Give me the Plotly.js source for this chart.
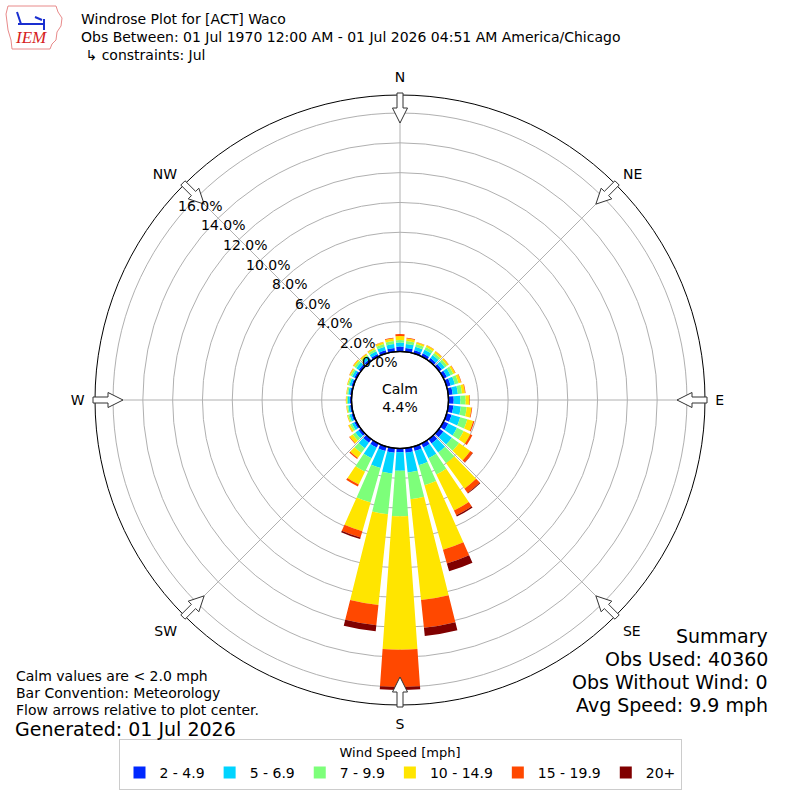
<!DOCTYPE html>
<html>
<head>
<meta charset="utf-8">
<script src="https://cdn.plot.ly/plotly-3.0.1.min.js"></script>
<style>
  html, body { margin: 0; padding: 0; background: #ffffff; }
  #chart { width: 800px; height: 800px; }
</style>
</head>
<body>
<div id="chart"></div>
<script>
// ---- data (percent of observations), direction in compass degrees ----
const directions = [0,10,20,30,40,50,60,70,80,90,100,110,120,130,140,150,160,170,
                    180,190,200,210,220,230,240,250,260,270,280,290,300,310,320,330,340,350];
const speedBins = ["2 - 4.9", "5 - 6.9", "7 - 9.9", "10 - 14.9", "15 - 19.9", "20+"];
const binColors = ["#0028ff", "#00d4ff", "#7dff7a", "#ffe500", "#ff4800", "#800000"];

const bin2to5 = [0.33,0.25,0.22,0.23,0.22,0.22,0.25,0.28,0.30,0.35,0.35,0.35,0.35,0.35,0.35,0.30,0.30,0.30,
                 0.25,0.30,0.30,0.30,0.30,0.20,0.16,0.14,0.12,0.12,0.12,0.14,0.16,0.18,0.17,0.18,0.22,0.25];
const bin5to7 = [0.27,0.28,0.25,0.27,0.25,0.25,0.27,0.30,0.35,0.45,0.50,0.60,0.65,0.70,0.75,0.80,1.00,1.33,
                 1.25,1.41,1.20,0.80,0.45,0.25,0.18,0.14,0.12,0.12,0.12,0.14,0.17,0.20,0.18,0.20,0.25,0.27];
const bin7to10 = [0.17,0.20,0.18,0.20,0.18,0.18,0.21,0.25,0.28,0.35,0.40,0.50,0.50,0.60,0.90,1.20,1.40,1.81,
                  3.05,2.75,2.40,1.00,0.40,0.22,0.14,0.10,0.08,0.08,0.08,0.10,0.12,0.15,0.13,0.15,0.18,0.20];
const bin10to15 = [0.27,0.17,0.13,0.13,0.13,0.13,0.14,0.18,0.20,0.25,0.32,0.41,0.50,0.93,2.10,2.70,4.50,6.80,
                   8.95,6.11,2.00,0.95,0.40,0.25,0.12,0.06,0.05,0.05,0.05,0.06,0.08,0.11,0.10,0.11,0.14,0.18];
const bin15to20 = [0.13,0.04,0.02,0.02,0.02,0.02,0.03,0.03,0.04,0.04,0.05,0.08,0.15,0.20,0.35,0.35,0.95,1.87,
                   2.50,1.37,0.45,0.15,0.09,0.04,0.02,0.01,0.01,0.01,0.01,0.01,0.02,0.02,0.02,0.02,0.03,0.04];
const bin20plus = [0,0,0,0,0,0,0,0,0,0,0,0,0,0.02,0.05,0.10,0.55,0.55,
                   0.20,0.41,0.10,0,0,0,0,0,0,0,0,0,0,0,0,0,0,0];

const compassVals = [0,45,90,135,180,225,270,315];
const compassText = ["N","NE","E","SE","S","SW","W","NW"];
const radialTicks = [0,2,4,6,8,10,12,14,16];
const radialTickText = ["0.0%","2.0%","4.0%","6.0%","8.0%","10.0%","12.0%","14.0%","16.0%"];

const titleLines = ["Windrose Plot for [ACT] Waco",
                    "Obs Between: 01 Jul 1970 12:00 AM - 01 Jul 2026 04:51 AM America/Chicago",
                    " \u21B3 constraints: Jul"];
const noteLines = ["Calm values are < 2.0 mph", "Bar Convention: Meteorology", "Flow arrows relative to plot center."];
const summaryLines = ["Summary", "Obs Used: 40360", "Obs Without Wind: 0", "Avg Speed: 9.9 mph"];
const calmText = "Calm<br>4.4%";
const generatedText = "Generated: 01 Jul 2026";

// ---- traces ----
const series = [bin2to5, bin5to7, bin7to10, bin10to15, bin15to20, bin20plus];
const traces = series.map((vals, i) => ({
  type: "barpolar",
  name: speedBins[i],
  r: vals,
  theta: directions,
  width: 8,
  marker: { color: binColors[i], line: { width: 0 } },
  hoverinfo: "skip"
}));

// ---- geometry (pixels) ----
const W = 800, H = 800;
const cx = 400, cy = 400, R = 305, holePx = 48.5;
const rMax = 17.21;
const FONT = "DejaVu Sans, Liberation Sans, sans-serif";
const rPx = v => holePx + v * (R - holePx) / rMax;   // same linear radial scale as the polar axis

// compass arrows pointing to center
const shapes = [];
function P(x, y) { return (x / W).toFixed(5) + "," + (1 - y / H).toFixed(5); }
compassVals.forEach(b => {
  const t = b * Math.PI / 180;
  const ux = Math.sin(t), uy = -Math.cos(t);   // outward, screen coords
  const px = Math.cos(t), py = Math.sin(t);    // perpendicular
  const pt = (r, w) => P(cx + ux * r + px * w, cy + uy * r + py * w);
  const r0 = R + 2, r1 = R - 13, r2 = R - 28;
  const path = "M" + pt(r0, 3) + "L" + pt(r1, 3) + "L" + pt(r1, 7.5) + "L" + pt(r2, 0) +
               "L" + pt(r1, -7.5) + "L" + pt(r1, -3) + "L" + pt(r0, -3) + "Z";
  shapes.push({ type: "path", xref: "paper", yref: "paper", path: path,
                fillcolor: "#ffffff", line: { color: "#333333", width: 1 }, layer: "above" });
});
// hole outline
shapes.push({ type: "circle", xref: "paper", yref: "paper",
  x0: (cx - holePx) / W, x1: (cx + holePx) / W, y0: 1 - (cy + holePx) / H, y1: 1 - (cy - holePx) / H,
  line: { color: "#000000", width: 1.5 }, fillcolor: "rgba(0,0,0,0)", layer: "above" });

// IEM logo (simple)
shapes.push({ type: "path", xref: "paper", yref: "paper",
  path: "M" + P(8,6) + "L" + P(56,6) + "L" + P(58,12) + "L" + P(62,18) + "L" + P(61,26) + "L" + P(57,32) +
        "L" + P(56,40) + "L" + P(52,44) + "L" + P(50,49) + "L" + P(12,49) + "L" + P(11,40) + "L" + P(8,30) + "L" + P(6,14) + "Z",
  fillcolor: "rgba(0,0,0,0)", line: { color: "#e88a8a", width: 1 } });
shapes.push({ type: "path", xref: "paper", yref: "paper",
  path: "M" + P(18,24) + "L" + P(44,24) + "M" + P(44,19) + "L" + P(44,30) + "M" + P(17,12) + "L" + P(21,24) +
        "M" + P(35,17) + "L" + P(42,20),
  line: { color: "#1a2fd0", width: 2 } });

const annotations = [];
// radial tick labels placed along the label direction using the radial scale
const labAng = 139 * Math.PI / 180;
radialTicks.forEach((v, i) => {
  const r = rPx(v);
  const x = cx + r * Math.cos(labAng) + 16.9;
  const y = cy - r * Math.sin(labAng) - 5.8;
  annotations.push({ text: radialTickText[i], xref: "paper", yref: "paper", x: x / W, y: 1 - y / H,
    xanchor: "center", yanchor: "middle", showarrow: false,
    font: { family: FONT, size: 14, color: "#000" } });
});
// title lines
titleLines.forEach((s, i) => annotations.push({
  text: s, xref: "paper", yref: "paper", x: 79 / W, y: 1 - (19 + i * 18) / H,
  xanchor: "left", yanchor: "middle", showarrow: false, font: { family: FONT, size: 14, color: "#000" }
}));
annotations.push({ text: "<i>IEM</i>", xref: "paper", yref: "paper", x: 31 / W, y: 1 - 38 / H,
  xanchor: "center", yanchor: "middle", showarrow: false,
  font: { family: "Liberation Serif, DejaVu Serif, serif", size: 17, color: "#d62020" } });
// notes
noteLines.forEach((s, i) => annotations.push({
  text: s, xref: "paper", yref: "paper", x: 14 / W, y: 1 - (676 + i * 17) / H,
  xanchor: "left", yanchor: "middle", showarrow: false, font: { family: FONT, size: 14, color: "#000" }
}));
annotations.push({ text: generatedText, xref: "paper", yref: "paper", x: 13 / W, y: 1 - 729 / H,
  xanchor: "left", yanchor: "middle", showarrow: false, font: { family: FONT, size: 19, color: "#000" } });
summaryLines.forEach((s, i) => annotations.push({
  text: s, xref: "paper", yref: "paper", x: 770 / W, y: 1 - (636 + i * 23) / H,
  xanchor: "right", yanchor: "middle", showarrow: false, font: { family: FONT, size: 19, color: "#000" }
}));
annotations.push({ text: calmText, xref: "paper", yref: "paper", x: 0.5, y: 1 - 398 / H,
  xanchor: "center", yanchor: "middle", showarrow: false, font: { family: FONT, size: 14, color: "#000" } });

const layout = {
  width: W, height: H,
  margin: { l: 0, r: 0, t: 0, b: 0 },
  paper_bgcolor: "#ffffff",
  font: { family: FONT, size: 14, color: "#000" },
  showlegend: true,
  legend: {
    orientation: "h", x: 0.5, xanchor: "center", y: 10 / H, yanchor: "bottom",
    bgcolor: "#ffffff", bordercolor: "#cccccc", borderwidth: 1,
    title: { text: "Wind Speed [mph]", side: "top center", font: { family: FONT, size: 13 } },
    font: { family: FONT, size: 14 }, traceorder: "normal"
  },
  polar: {
    domain: { x: [(cx - R) / W, (cx + R) / W], y: [1 - (cy + R) / H, 1 - (cy - R) / H] },
    bgcolor: "#ffffff",
    hole: holePx / R,
    barmode: "stack",
    bargap: 0,
    angularaxis: {
      rotation: 90, direction: "clockwise",
      tickmode: "array", tickvals: compassVals, ticktext: compassText,
      ticks: "outside", ticklen: 7, tickcolor: "rgba(0,0,0,0)",
      showline: true, linecolor: "#000000", linewidth: 1,
      showgrid: true, gridcolor: "#b0b0b0", gridwidth: 1,
      tickfont: { family: FONT, size: 14, color: "#000" }
    },
    radialaxis: {
      range: [0, rMax], angle: 135,
      tickmode: "array", tickvals: radialTicks, ticktext: radialTickText,
      showticklabels: false,
      showline: false, ticks: "", showgrid: true, gridcolor: "#b0b0b0", gridwidth: 1
    }
  },
  shapes: shapes,
  annotations: annotations
};

Plotly.newPlot("chart", traces, layout, { displayModeBar: false, staticPlot: true });
</script>
</body>
</html>
